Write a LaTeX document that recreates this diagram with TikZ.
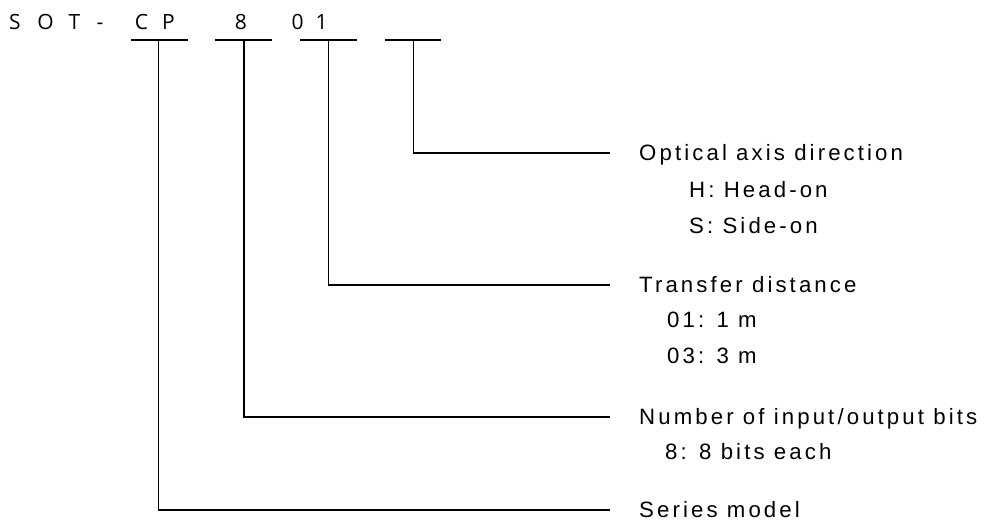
\documentclass[tikz,border=0pt]{standalone}
\usepackage{fontspec}
\newfontfamily\headfont{Open Sans}
\newfontfamily\bodyfont{Liberation Sans}[LetterSpace=14]
\begin{document}
\begin{tikzpicture}[x=1pt,y=-1pt,
  wire/.style={line width=1.6pt},
  hchar/.style={font=\headfont\fontsize{21}{21}\selectfont, inner sep=0pt, anchor=base},
  lab/.style={font=\bodyfont\fontsize{22.2}{22.2}\selectfont, anchor=west,
    inner xsep=29pt, inner ysep=0pt, text height=15.9pt, text depth=0pt},
  sub/.style={font=\bodyfont\fontsize{22.2}{22.2}\selectfont, anchor=west,
    inner sep=0pt, text height=15.9pt, text depth=0pt}]
\useasboundingbox (0,0) rectangle (990,527);
% header characters
\node[hchar] (hS) at (15,30) {S};
\node[hchar] (hO) at (45.5,30) {O};
\node[hchar] (hT) at (74.5,30) {T};
\node[hchar] (hD) at (100,30) {-};
\node[hchar] (hC) at (141.5,30) {C};
\node[hchar] (hP) at (168.5,30) {P};
\node[hchar] (h8) at (241,30) {8};
\node[hchar] (h0) at (297.5,30) {0};
\node[hchar] (h1) at (321.5,30) {1};
% underlines
\draw[wire] (131,40) -- (188,40);
\draw[wire] (215,40) -- (272,40);
\draw[wire] (300,40) -- (357,40);
\draw[wire] (385,40) -- (441,40);
\coordinate (s1) at (158.5,40);
\coordinate (s2) at (244,40);
\coordinate (s3) at (328.5,40);
\coordinate (s4) at (413.5,40);
% labels
\node[lab] (l4) at (610,153) {Optical axis direction};
\node[sub] (l4a) at (689,190) {H: Head-on};
\node[sub] (l4b) at (689,226) {S: Side-on};
\node[lab] (l3) at (610,285) {Transfer distance};
\node[sub] (l3a) at (667,320) {01: 1 m};
\node[sub] (l3b) at (667,356) {03: 3 m};
\node[lab] (l2) at (610,417) {Number of input/output bits};
\node[sub] (l2a) at (665,452) {8: 8 bits each};
\node[lab] (l1) at (610,510) {Series model};
% connectors
\draw[wire] (s4) |- (l4.west);
\draw[wire] (s3) |- (l3.west);
\draw[wire] (s2) |- (l2.west);
\draw[wire] (s1) |- (l1.west);
\end{tikzpicture}
\end{document}
